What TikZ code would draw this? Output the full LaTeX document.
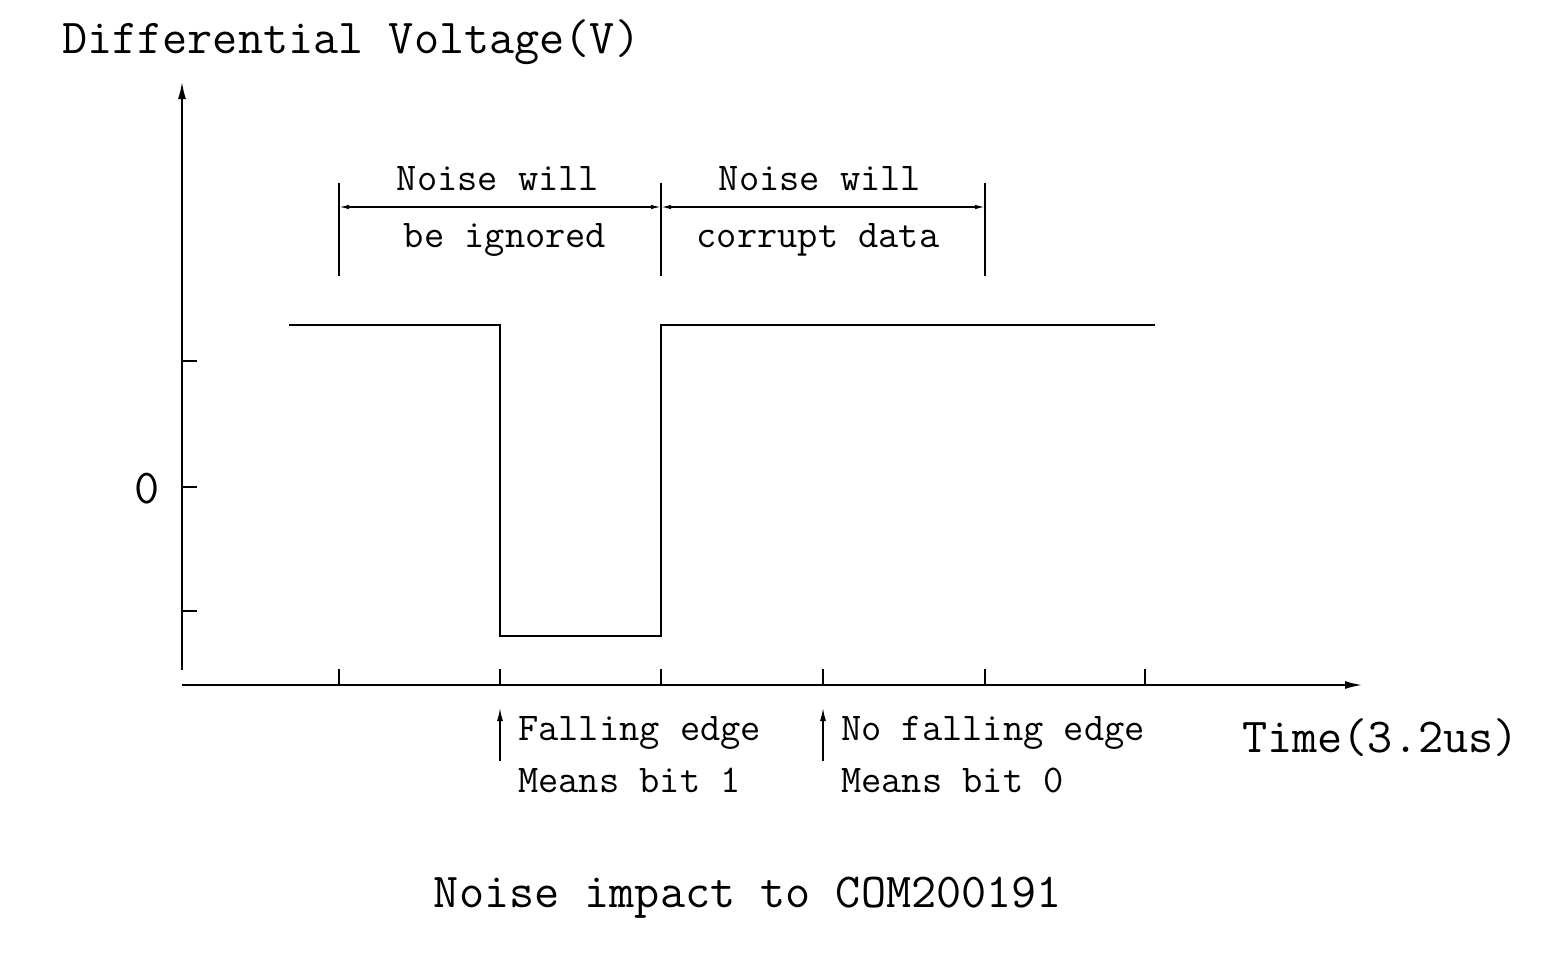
\documentclass[tikz,border=0pt]{standalone}
\usepackage{fontspec}
\usetikzlibrary{arrows.meta}
\begin{document}
\begin{tikzpicture}[x=1pt,y=-1pt,
  ln/.style={line width=1.8pt},
  thin/.style={line width=1.4pt},
  tip/.style={-{Latex[length=17pt,width=8pt]}},
  dtip/.style={{Latex[length=10pt,width=4.5pt]}-{Latex[length=10pt,width=4.5pt]}},
  big/.style={font=\ttfamily\fontsize{48.8}{48.8}\selectfont, inner sep=0pt},
  small/.style={font=\ttfamily\fontsize{39.3}{39.3}\selectfont, inner sep=0pt}]
\useasboundingbox (0,0) rectangle (1566,961);
% axes
\coordinate (ybot) at (182,670);
\coordinate (ytop) at (182,82);
\coordinate (xl) at (182,685);
\coordinate (xr) at (1362,685);
\draw[ln,tip] (ybot) -- (ytop);
\draw[ln,tip] (xl) -- (xr);
% y ticks
\foreach \y/\n in {361/ta,487/tb,611/tc}{
  \coordinate (\n1) at (182,\y); \coordinate (\n2) at (197,\y);
  \draw[thin] (\n1) -- (\n2);}
% x ticks
\foreach \x/\n in {339/xa,500/xb,661/xc,823/xd,985/xe,1145/xf}{
  \coordinate (\n1) at (\x,685); \coordinate (\n2) at (\x,669);
  \draw[thin] (\n1) -- (\n2);}
% signal
\coordinate (s0) at (289,325);
\coordinate (s1) at (500,325);
\coordinate (s2) at (500,636);
\coordinate (s3) at (661,636);
\coordinate (s4) at (661,325);
\coordinate (s5) at (1155,325);
\draw[thin] (s0) -- (s1) -- (s2) -- (s3) -- (s4) -- (s5);
% dimension extension lines
\foreach \x/\n in {339/ea,661/eb,985/ec}{
  \coordinate (\n1) at (\x,183); \coordinate (\n2) at (\x,276);
  \draw[thin] (\n1) -- (\n2);}
\coordinate (d1) at (339,207);
\coordinate (d2) at (661,207);
\coordinate (d3) at (985,207);
\draw[thin,dtip] (d1) -- (d2);
\draw[thin,dtip] (d2) -- (d3);
\node[small] (n1) at (498,179) {Noise will};
\node[small] (n2) at (505,240) {be ignored};
\node[small] (n3) at (820,179) {Noise will};
\node[small] (n4) at (818,240) {corrupt data};
% small up arrows
\coordinate (a1b) at (500,761);
\coordinate (a1t) at (500,708);
\coordinate (a2b) at (823,761);
\coordinate (a2t) at (823,708);
\draw[thin,-{Latex[length=13pt,width=6pt]}] (a1b) -- (a1t);
\draw[thin,-{Latex[length=13pt,width=6pt]}] (a2b) -- (a2t);
\node[small,anchor=west] (f1) at (518,733) {Falling edge};
\node[small,anchor=west] (f2) at (518,780) {Means bit 1};
\node[small,anchor=west] (f3) at (841,733) {No falling edge};
\node[small,anchor=west] (f4) at (841,780) {Means bit 0};
% labels
\node[big] (zero) at (147,489) {0};
\node[big,anchor=west] (time) at (1242,738) {Time(3.2us)};
\node[big,anchor=west] (ylab) at (62,42) {Differential Voltage(V)};
\node[big] (cap) at (748,898) {Noise impact to COM200191};
\end{tikzpicture}
\end{document}
